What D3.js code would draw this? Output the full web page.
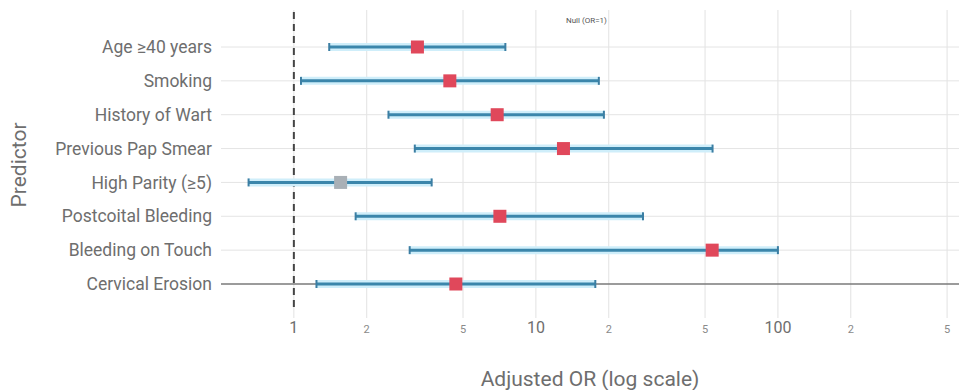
<!DOCTYPE html>
<html lang="en">
<head>
<meta charset="utf-8">
<title>Forest plot</title>
<script src="https://cdn.jsdelivr.net/npm/d3@7/dist/d3.min.js"></script>
<style>
  body { margin: 0; background: #fff; }
  svg { font-family: Roboto, "Liberation Sans", sans-serif; }
  .grid line { stroke: #e2e2e2; stroke-width: 1; }
  .ylab { fill: #6e6e6e; font-size: 17.5px; }
  .tick-major { fill: #6e6e6e; font-size: 16px; }
  .tick-minor { fill: #8a8a8a; font-size: 11px; }
</style>
</head>
<body>
<script>
  // predictors, top to bottom
  var predictors = ["Age \u226540 years", "Smoking", "History of Wart", "Previous Pap Smear",
                    "High Parity (\u22655)", "Postcoital Bleeding", "Bleeding on Touch", "Cervical Erosion"];
  var orValues = [3.24, 4.41, 6.92, 13.0, 1.56, 7.10, 53.5, 4.67];
  var ciLow    = [1.40, 1.07, 2.46, 3.16, 0.65, 1.80, 3.01, 1.24];
  var ciHigh   = [7.48, 18.2, 19.1, 53.7, 3.71, 27.7, 100, 17.6];
  var significant = [true, true, true, true, false, true, true, true];

  var tickValues = [1, 2, 5, 10, 20, 50, 100, 200, 500];
  var tickLabels = ["1", "2", "5", "10", "2", "5", "100", "2", "5"];

  var w = 959, h = 390;

  var svg = d3.select("body").append("svg")
    .attr("width", w)
    .attr("height", h);

  var x = d3.scaleLog()
    .domain([0.5, 560])
    .range([221, 959]);

  var y = d3.scalePoint()
    .domain(predictors)
    .range([47, 284]);

  // vertical grid
  svg.append("g").attr("class", "grid")
    .selectAll("line")
    .data(tickValues)
    .enter().append("line")
    .attr("x1", function(d) { return x(d); })
    .attr("x2", function(d) { return x(d); })
    .attr("y1", 10)
    .attr("y2", 318);

  // row lines
  svg.append("g").attr("class", "grid")
    .selectAll("line")
    .data(predictors)
    .enter().append("line")
    .attr("x1", x(0.5))
    .attr("x2", w)
    .attr("y1", function(d) { return y(d); })
    .attr("y2", function(d) { return y(d); })
    .style("stroke", function(d, i) { return i === predictors.length - 1 ? "#7a7a7a" : "#e4e4e4"; })
    .style("stroke-width", function(d, i) { return i === predictors.length - 1 ? 1.5 : 1; });

  // null line at OR = 1
  svg.append("line")
    .attr("x1", x(1)).attr("x2", x(1))
    .attr("y1", 12).attr("y2", 312)
    .attr("stroke", "#444")
    .attr("stroke-width", 2)
    .attr("stroke-dasharray", "7,5");

  svg.append("text")
    .attr("x", 566).attr("y", 23)
    .attr("font-size", 8)
    .attr("fill", "#555")
    .text("Null (OR=1)");

  var rows = predictors.map(function(p, i) {
    return { name: p, or: orValues[i], lo: ciLow[i], hi: ciHigh[i], sig: significant[i] };
  });

  // CI halo
  svg.append("g").selectAll("line")
    .data(rows).enter().append("line")
    .attr("x1", function(d) { return x(d.lo); })
    .attr("x2", function(d) { return x(d.hi); })
    .attr("y1", function(d) { return y(d.name); })
    .attr("y2", function(d) { return y(d.name); })
    .attr("stroke", "#cfeefa")
    .attr("stroke-width", 8);

  var ci = svg.append("g").selectAll("g")
    .data(rows).enter().append("g")
    .attr("transform", function(d) { return "translate(0," + y(d.name) + ")"; });

  ci.append("line")
    .attr("x1", function(d) { return x(d.lo); })
    .attr("x2", function(d) { return x(d.hi); })
    .attr("stroke", "#3b86ab")
    .attr("stroke-width", 3);

  ci.append("line")
    .attr("x1", function(d) { return x(d.lo); })
    .attr("x2", function(d) { return x(d.lo); })
    .attr("y1", -4).attr("y2", 4)
    .attr("stroke", "#3b7ea3")
    .attr("stroke-width", 2);

  ci.append("line")
    .attr("x1", function(d) { return x(d.hi); })
    .attr("x2", function(d) { return x(d.hi); })
    .attr("y1", -4).attr("y2", 4)
    .attr("stroke", "#3b7ea3")
    .attr("stroke-width", 2);

  ci.append("rect")
    .attr("x", function(d) { return x(d.or) - 6.5; })
    .attr("y", -6.5)
    .attr("width", 13)
    .attr("height", 13)
    .attr("fill", function(d) { return d.sig ? "#e0485b" : "#a9b0b6"; });

  // y labels
  svg.append("g").selectAll("text")
    .data(predictors).enter().append("text")
    .attr("class", "ylab")
    .attr("x", 212)
    .attr("y", function(d) { return y(d); })
    .attr("dy", "0.35em")
    .attr("text-anchor", "end")
    .text(function(d) { return d; });

  // x tick labels
  svg.append("g").selectAll("text")
    .data(tickValues).enter().append("text")
    .attr("class", function(d, i) { return /^1/.test(tickLabels[i]) ? "tick-major" : "tick-minor"; })
    .attr("x", function(d) { return x(d); })
    .attr("y", 333)
    .attr("text-anchor", "middle")
    .text(function(d, i) { return tickLabels[i]; });

  // axis titles
  svg.append("text")
    .attr("x", (x.range()[0] + x.range()[1]) / 2).attr("y", 386)
    .attr("text-anchor", "middle")
    .attr("font-size", 21)
    .attr("fill", "#6e6e6e")
    .text("Adjusted OR (log scale)");

  svg.append("text")
    .attr("transform", "translate(26,165) rotate(-90)")
    .attr("text-anchor", "middle")
    .attr("font-size", 21)
    .attr("fill", "#6e6e6e")
    .text("Predictor");
</script>
</body>
</html>
